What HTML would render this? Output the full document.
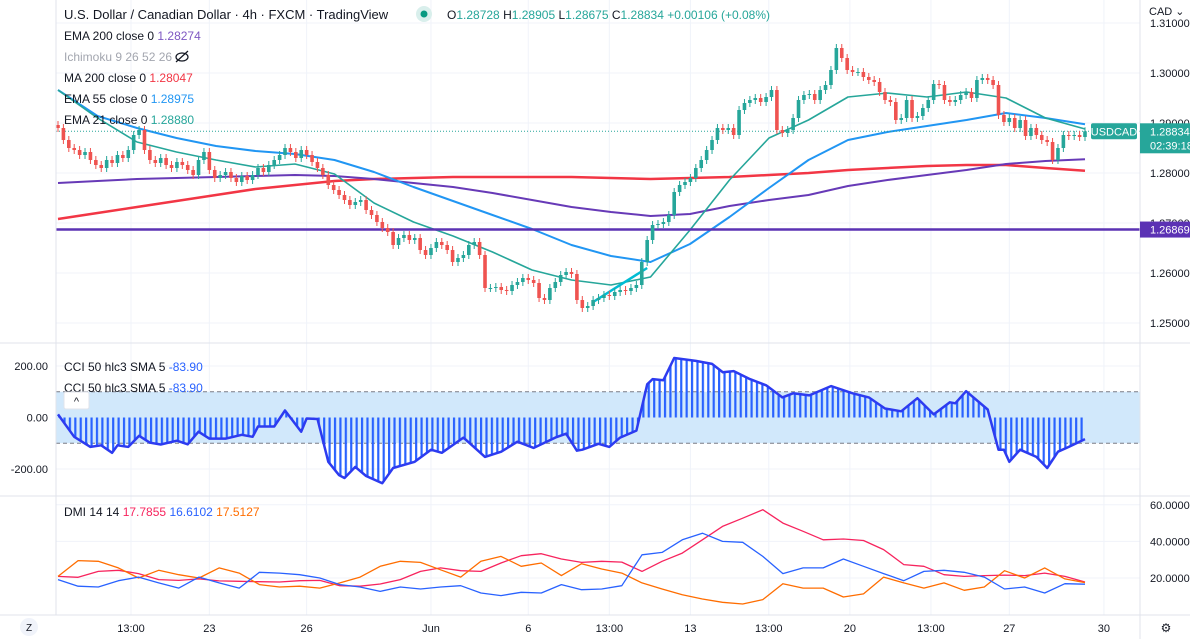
<!DOCTYPE html>
<html><head><meta charset="utf-8">
<style>
body{margin:0;background:#fff;font-family:"Liberation Sans",sans-serif;}
#wrap{position:relative;width:1190px;height:639px;overflow:hidden;}
svg text{font-family:"Liberation Sans",sans-serif;}
</style></head>
<body>
<div id="wrap">
<svg id="svg" width="1190" height="639" xmlns="http://www.w3.org/2000/svg">
<defs>
<pattern id="stripes" width="5.41" height="10" patternUnits="userSpaceOnUse" x="58">
<rect x="0" y="0" width="2.2" height="10" fill="#2962ff"/>
</pattern>
<clipPath id="plotClip"><rect x="56" y="0" width="1084" height="615"/></clipPath>
</defs>
<g id="grid"></g>
<g id="main" clip-path="url(#plotClip)"></g>
<g id="cci" clip-path="url(#plotClip)"></g>
<g id="dmi" clip-path="url(#plotClip)"></g>
<g id="axes"></g>
<g id="legend">
<text x="64" y="19" font-size="13" fill="#131722">U.S. Dollar / Canadian Dollar · 4h · FXCM · TradingView</text>
<circle cx="424" cy="14" r="8" fill="#d9efec"/>
<circle cx="424" cy="14" r="3.5" fill="#089981"/>
<text x="447" y="19" font-size="12" fill="#26a69a"><tspan fill="#131722">O</tspan>1.28728 <tspan fill="#131722">H</tspan>1.28905 <tspan fill="#131722">L</tspan>1.28675 <tspan fill="#131722">C</tspan>1.28834 +0.00106 (+0.08%)</text>
<text x="64" y="40" font-size="12" fill="#131722">EMA 200 close 0 <tspan fill="#7e57c2">1.28274</tspan></text>
<text x="64" y="61" font-size="12" fill="#a3a6af">Ichimoku 9 26 52 26</text>
<g><ellipse cx="182" cy="57" rx="6" ry="4" fill="none" stroke="#131722" stroke-width="1.2"/><line x1="176" y1="62" x2="188" y2="51" stroke="#131722" stroke-width="1.2"/></g>
<text x="64" y="82" font-size="12" fill="#131722">MA 200 close 0 <tspan fill="#f23645">1.28047</tspan></text>
<text x="64" y="103" font-size="12" fill="#131722">EMA 55 close 0 <tspan fill="#2196f3">1.28975</tspan></text>
<text x="64" y="124" font-size="12" fill="#131722">EMA 21 close 0 <tspan fill="#26a69a">1.28880</tspan></text>
<text x="64" y="371" font-size="12" fill="#131722">CCI 50 hlc3 SMA 5 <tspan fill="#2962ff">-83.90</tspan></text>
<text x="64" y="392" font-size="12" fill="#131722">CCI 50 hlc3 SMA 5 <tspan fill="#2962ff">-83.90</tspan></text>
<g><rect x="64" y="392" width="25" height="17" rx="2" fill="#fff" stroke="#e0e3eb"/><text x="76.5" y="405" font-size="11" text-anchor="middle" fill="#131722">^</text></g>
<text x="64" y="516" font-size="12" fill="#131722">DMI 14 14 <tspan fill="#f7245e">17.7855</tspan> <tspan fill="#2962ff">16.6102</tspan> <tspan fill="#ff6d00">17.5127</tspan></text>
</g>
</svg>
</div>
<script>
// ---------- DATA ----------
const closes = [1.2890,1.2866,1.2850,1.2846,1.2836,1.2842,1.2826,1.2816,1.2810,1.2826,1.2820,1.2836,1.2830,1.2846,1.2876,1.2886,1.2846,1.2826,1.2820,1.2830,1.2816,1.2810,1.2822,1.2816,1.2806,1.2796,1.2826,1.2842,1.2806,1.2790,1.2796,1.2802,1.2790,1.2782,1.2794,1.2786,1.2796,1.2810,1.2802,1.2816,1.2826,1.2836,1.2850,1.2842,1.2830,1.2846,1.2836,1.2822,1.2810,1.2796,1.2776,1.2766,1.2756,1.2746,1.2736,1.2742,1.2746,1.2726,1.2716,1.2702,1.2690,1.2682,1.2656,1.2670,1.2676,1.2666,1.2670,1.2646,1.2636,1.2650,1.2662,1.2656,1.2646,1.2622,1.2630,1.2636,1.2656,1.2662,1.2636,1.2570,1.2570,1.2572,1.2566,1.2564,1.2576,1.2582,1.2590,1.2586,1.2580,1.2550,1.2546,1.2570,1.2582,1.2596,1.2602,1.2598,1.2546,1.2530,1.2534,1.2546,1.2550,1.2556,1.2554,1.2562,1.2566,1.2564,1.2570,1.2576,1.2622,1.2666,1.2696,1.2698,1.2702,1.2716,1.2762,1.2776,1.2782,1.2790,1.2810,1.2826,1.2846,1.2866,1.2890,1.2886,1.2890,1.2876,1.2926,1.2940,1.2946,1.2950,1.2942,1.2952,1.2966,1.2886,1.2880,1.2886,1.2910,1.2946,1.2956,1.2958,1.2946,1.2966,1.2976,1.3006,1.3050,1.3030,1.3006,1.3002,1.3002,1.2992,1.2986,1.2982,1.2962,1.2946,1.2942,1.2906,1.2910,1.2946,1.2910,1.2914,1.2930,1.2946,1.2978,1.2976,1.2946,1.2942,1.2946,1.2956,1.2962,1.2950,1.2986,1.2990,1.2986,1.2976,1.2916,1.2902,1.2910,1.2890,1.2906,1.2874,1.2890,1.2876,1.2866,1.2862,1.2826,1.2850,1.2876,1.2874,1.2876,1.2872,1.28834];
const ema21 = [1.2966,1.2910,1.2862,1.2842,1.2826,1.2812,1.2818,1.2798,1.2740,1.2702,1.2674,1.2642,1.2606,1.2586,1.2576,1.2592,1.2686,1.2786,1.2870,1.2906,1.2952,1.2960,1.2952,1.2962,1.2950,1.2910,1.2888];
const ema55 = [1.2966,1.2914,1.2890,1.2870,1.2854,1.2844,1.2838,1.2826,1.2802,1.2772,1.2744,1.2716,1.2688,1.2656,1.2634,1.2622,1.2658,1.2712,1.2770,1.2826,1.2866,1.2882,1.2894,1.2906,1.2920,1.2910,1.28975];
const ema200 = [1.2780,1.2784,1.2788,1.2790,1.2792,1.2794,1.2796,1.2794,1.2788,1.2780,1.2772,1.2760,1.2746,1.2732,1.2722,1.2714,1.2718,1.2734,1.2746,1.2756,1.2774,1.2786,1.2796,1.2806,1.2818,1.2824,1.28274];
const ma200 = [1.2708,1.2720,1.2732,1.2744,1.2756,1.2768,1.2776,1.2784,1.2788,1.2790,1.2792,1.2792,1.2792,1.2792,1.2790,1.2788,1.2790,1.2792,1.2796,1.2800,1.2806,1.2810,1.2814,1.2816,1.2816,1.2810,1.28047];
const hLinePrice = 1.26869;
const lastPrice = 1.28834;
const priceTicks = [1.25,1.26,1.27,1.28,1.29,1.30,1.31];
const cciBars = [0,3,6,8,10,11,13,15,17,19,22,24,26,28,31,34,36,37,40,42,45,46,48,50,52,53,55,57,60,62,66,69,71,75,79,82,85,88,92,94,96,97,100,102,104,107,109,110,112,114,118,121,123,125,128,131,134,136,139,143,147,150,153,156,159,162,165,166,168,172,174,175,176,178,181,183,185,187,190];
const cciVals = [12,-75,-114,-108,-137,-108,-114,-71,-98,-105,-90,-104,-55,-82,-82,-67,-75,-35,-35,27,-55,-4,-6,-172,-224,-235,-192,-227,-255,-196,-172,-125,-137,-78,-153,-133,-94,-118,-78,-63,-129,-125,-102,-114,-78,-51,129,149,145,231,220,208,176,180,149,125,78,94,86,122,94,78,35,24,75,12,59,55,102,31,-125,-125,-172,-125,-153,-196,-133,-114,-83.9];
const cciTicks = [200,0,-200];
const dmiPink = [20.9,20.4,23.6,24.2,22.4,19.1,18.7,19.5,18.4,18.2,18.0,17.8,18.5,18.7,15.8,15.5,16.7,19.1,23.6,25.5,24.0,23.6,28.2,32.2,33.3,30.4,28.5,29.1,28.7,23.6,29.1,33.6,40.9,48.2,52.7,57.3,50.0,45.5,40.9,41.3,40.5,35.5,27.3,26.4,21.8,20.9,21.3,21.6,21.3,22.7,20.9,17.79];
const dmiBlue = [19.1,15.5,15.1,18.5,20.5,17.3,14.5,20.5,17.3,14.5,23.1,22.7,21.8,20.0,16.4,15.1,12.7,15.1,14.0,15.1,15.8,11.8,10.4,12.2,11.8,16.4,13.6,14.0,15.8,32.7,34.0,40.9,44.5,40.0,39.5,31.8,22.4,25.5,25.5,30.4,26.4,22.4,18.5,23.6,24.2,23.1,20.5,14.0,15.1,11.8,16.9,16.61];
const dmiOrange = [20.9,29.5,29.1,25.5,20.0,24.2,21.8,20.0,25.5,22.7,16.4,15.1,15.5,14.5,17.3,20.5,26.4,29.1,28.5,24.5,20.5,29.1,31.8,26.4,28.2,21.3,27.8,24.9,22.7,17.3,14.0,10.9,8.5,6.7,5.8,8.2,16.9,14.5,14.5,9.6,11.3,20.5,17.3,14.5,17.3,13.3,15.1,24.0,20.0,25.5,19.5,17.51];
const dmiTicks = [20,40,60];
const timeLabels = ["13:00","23","26","Jun","6","13:00","13","13:00","20","13:00","27","30"];
const timeBars = [13.5,28,46,69,87,102,117,131.5,146.5,161.5,176,193.5];

// ---------- SCALES ----------
const NS='http://www.w3.org/2000/svg';
const X0=58, X1=1085, NB=190;
const xb = i => X0 + i*(X1-X0)/NB;
const yP = p => 73 + (1.30-p)*5000;
const yC = v => 417.5 - v*0.2575;
const yD = v => 578 - (v-20)*1.83;
function mk(tag,attrs,parent){const e=document.createElementNS(NS,tag);for(const k in attrs)e.setAttribute(k,attrs[k]);parent.appendChild(e);return e;}
const grid=document.getElementById('grid'), main=document.getElementById('main'), cci=document.getElementById('cci'), dmi=document.getElementById('dmi'), axes=document.getElementById('axes');

// grid
timeBars.forEach(b=>{const l=mk('line',{x1:xb(b),x2:xb(b),y1:0,y2:615,stroke:'#f0f3fa'},grid);

});
priceTicks.forEach(p=>{const l=mk('line',{x1:56,x2:1140,y1:yP(p),y2:yP(p),stroke:'#f0f3fa'},grid);

});
cciTicks.forEach(v=>{const l=mk('line',{x1:56,x2:1140,y1:yC(v),y2:yC(v),stroke:'#f0f3fa'},grid);

});
dmiTicks.forEach(v=>{const l=mk('line',{x1:56,x2:1140,y1:yD(v),y2:yD(v),stroke:'#f0f3fa'},grid);

});

// price pane lines
function maLine(arr,color,name,w){
  const n=arr.length;const pts=arr.map((v,k)=>xb(k*NB/(n-1)).toFixed(1)+','+yP(v).toFixed(1)).join(' ');
  const l=mk('polyline',{points:pts,fill:'none',stroke:color,'stroke-width':w,'stroke-linejoin':'round'},main);
  
  
}
maLine(ma200,'#f23645','ma200-line',2.5);
maLine(ema200,'#673ab7','ema200-line',2);
maLine(ema55,'#2196f3','ema55-line',2);
maLine(ema21,'#26a69a','ema21-line',1.6);
{const l=mk('line',{x1:56,x2:1140,y1:yP(hLinePrice),y2:yP(hLinePrice),stroke:'#5b32b4','stroke-width':2.5},main);

}
{const l=mk('line',{x1:56,x2:1140,y1:yP(lastPrice),y2:yP(lastPrice),stroke:'#26a69a','stroke-width':1,'stroke-dasharray':'1,2'},main);

}
{const l=mk('line',{x1:xb(99),x2:xb(109),y1:yP(closes[99])+2,y2:yP(closes[108])+6,stroke:'#00bcd4','stroke-width':2.5},main);

}

// candles
for(let i=0;i<closes.length;i++){
  const c=closes[i], o=i>0?closes[i-1]:c+0.0006;
  const up=c>=o, col=up?'#26a69a':'#ef5350';
  const x=xb(i), yt=yP(Math.max(o,c)), ybm=yP(Math.min(o,c));
  const w=mk('line',{x1:x,x2:x,y1:yt-4,y2:ybm+4,stroke:col,'stroke-width':1},main);
  
  
  const r=mk('rect',{x:x-1.8,y:yt,width:3.6,height:Math.max(1,ybm-yt),fill:col},main);
  
  
}

// CCI pane
{const b=mk('rect',{x:56,y:yC(100),width:1084,height:yC(-100)-yC(100),fill:'#d1e8fb'},cci);

}
[100,-100].forEach(v=>{const l=mk('line',{x1:56,x2:1140,y1:yC(v),y2:yC(v),stroke:'#787b86','stroke-dasharray':'4,3'},cci);

});
const cciPts=cciBars.map((b,k)=>xb(b).toFixed(1)+','+yC(cciVals[k]).toFixed(1));
{const a=mk('polygon',{points:xb(cciBars[0])+','+yC(0)+' '+cciPts.join(' ')+' '+xb(cciBars[cciBars.length-1])+','+yC(0),fill:'url(#stripes)'},cci);

}
{const l=mk('polyline',{points:cciPts.join(' '),fill:'none',stroke:'#2d3bf0','stroke-width':2.5,'stroke-linejoin':'round'},cci);

}

// DMI pane
function dLine(arr,color,name){
  const n=arr.length;const pts=arr.map((v,k)=>xb(k*NB/(n-1)).toFixed(1)+','+yD(v).toFixed(1)).join(' ');
  const l=mk('polyline',{points:pts,fill:'none',stroke:color,'stroke-width':1.3,'stroke-linejoin':'round'},dmi);
  
  
}
dLine(dmiPink,'#f7245e','dmi-adx-line');
dLine(dmiOrange,'#ff6d00','dmi-minus-di-line');
dLine(dmiBlue,'#2962ff','dmi-plus-di-line');

// axes & separators
[[0,343,1190,343],[0,496,1190,496],[0,615,1190,615],[1140,0,1140,639],[56,0,56,615]].forEach(s=>{
  const l=mk('line',{x1:s[0],y1:s[1],x2:s[2],y2:s[3],stroke:'#e0e3eb'},axes);
  
  
});
priceTicks.forEach(p=>{const t=mk('text',{x:1150,y:yP(p)+4,'font-size':11,fill:'#131722'},axes);t.textContent=p.toFixed(5);

});
{const t=mk('text',{x:1149,y:15,'font-size':11,fill:'#131722'},axes);t.textContent='CAD ⌄';

}
cciTicks.forEach(v=>{const t=mk('text',{x:48,y:yC(v)+4,'font-size':11,fill:'#131722','text-anchor':'end'},axes);t.textContent=v.toFixed(2);

});
dmiTicks.forEach(v=>{const t=mk('text',{x:1150,y:yD(v)+4,'font-size':11,fill:'#131722'},axes);t.textContent=v.toFixed(4);

});
timeLabels.forEach((s,k)=>{const t=mk('text',{x:xb(timeBars[k]),y:632,'font-size':11,fill:'#131722','text-anchor':'middle'},axes);t.textContent=s;

});

// price tags
const yl=yP(lastPrice);
{const r=mk('rect',{x:1091,y:yl-8,width:46,height:16,rx:2,fill:'#26a69a'},axes);


const t=mk('text',{x:1114,y:yl+4,'font-size':11,fill:'#fff','text-anchor':'middle'},axes);t.textContent='USDCAD';

}
{const r=mk('rect',{x:1140,y:yl-8,width:50,height:30,fill:'#26a69a'},axes);


const t=mk('text',{x:1150,y:yl+4,'font-size':11,fill:'#fff'},axes);t.textContent='1.28834';


const t2=mk('text',{x:1150,y:yl+18,'font-size':11,fill:'#fff'},axes);t2.textContent='02:39:18';

}
{const yh=yP(hLinePrice);const r=mk('rect',{x:1140,y:yh-8,width:50,height:16,fill:'#5b32b4'},axes);


const t=mk('text',{x:1150,y:yh+4,'font-size':11,fill:'#fff'},axes);t.textContent='1.26869';

}

// bottom buttons
{const c=mk('circle',{cx:29,cy:627,r:9,fill:'#f0f3fa'},axes);


const t=mk('text',{x:29,y:631,'font-size':10,fill:'#131722','text-anchor':'middle'},axes);t.textContent='Z';

}
{const t=mk('text',{x:1166,y:632,'font-size':12,fill:'#131722','text-anchor':'middle'},axes);t.textContent='⚙';

}
</script>
</body></html>
